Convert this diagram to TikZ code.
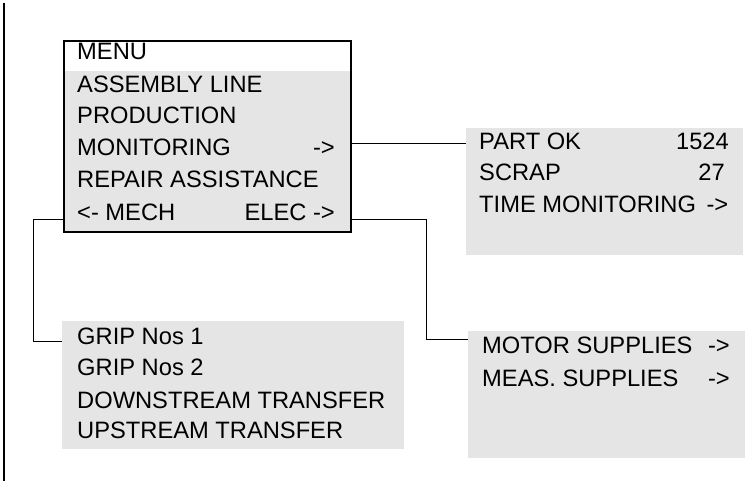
\documentclass[tikz,border=0pt]{standalone}
\usepackage{fontspec}
\setmainfont{Liberation Sans}
\begin{document}
\begin{tikzpicture}[x=1pt,y=-1pt,
  graybox/.style={fill=boxgray, draw=none, inner sep=0pt, anchor=north west},
  txt/.style={anchor=base west, inner sep=0pt, font=\fontsize{23.7}{28}\selectfont},
  rtxt/.style={anchor=base east, inner sep=0pt, font=\fontsize{23.7}{28}\selectfont},
  conn/.style={draw=black, line width=1pt}]
\definecolor{boxgray}{HTML}{E5E5E5}
\useasboundingbox (0,0) rectangle (745,481);
% left vertical rule
\draw[line width=2pt] (4,3) -- (4,481);
% menu box
\node[graybox, minimum width=287pt, minimum height=160pt] (menubody) at (63,71) {};
\node[draw=black, line width=2pt, inner sep=0pt, anchor=north west,
      minimum width=287pt, minimum height=190.7pt] (menu) at (63,40) {};
\node[txt] (t0) at (77,60) {MENU};
\node[txt] (t1) at (77,92.7) {ASSEMBLY LINE};
\node[txt] (t2) at (77,124) {PRODUCTION};
\node[txt] (t3) at (77,156) {MONITORING};
\node[rtxt] (t3a) at (335,156) {->};
\node[txt] (t4) at (77,188) {REPAIR ASSISTANCE};
\node[txt] (t5) at (77,220.7) {<- MECH};
\node[rtxt] (t5a) at (335,220.7) {ELEC ->};
% top right box
\node[graybox, minimum width=277pt, minimum height=127.3pt] (pbox) at (466,127.7) {};
\node[txt] (p1) at (479,150) {PART OK};
\node[rtxt] (p1n) at (729,150) {1524};
\node[txt] (p2) at (479,181) {SCRAP};
\node[rtxt] (p2n) at (725,181) {27};
\node[txt] (p3) at (479,212.7) {TIME MONITORING};
\node[rtxt] (p3a) at (728.5,212.7) {->};
% bottom left box
\node[graybox, minimum width=342pt, minimum height=128.3pt] (mbox) at (62,320.7) {};
\node[txt] (m1) at (77,344.3) {GRIP Nos 1};
\node[txt] (m2) at (77,375.7) {GRIP Nos 2};
\node[txt] (m3) at (77,408.3) {DOWNSTREAM TRANSFER};
\node[txt] (m4) at (77,438.3) {UPSTREAM TRANSFER};
% bottom right box
\node[graybox, minimum width=277pt, minimum height=127.3pt] (ebox) at (468,330.7) {};
\node[txt] (e1) at (482,354) {MOTOR SUPPLIES};
\node[rtxt] (e1a) at (730,354) {->};
\node[txt] (e2) at (482,386.7) {MEAS. SUPPLIES};
\node[rtxt] (e2a) at (730,386.7) {->};
% connectors
\coordinate (cm) at (33,341.7);
\coordinate (ce) at (426,340);
\draw[conn] (menu.east |- 0,144) -- (pbox.west |- 0,144);
\draw[conn] (menu.east |- 0,220) -| (ce) -- (ebox.west |- ce);
\draw[conn] (menu.west |- 0,220) -| (cm) -- (mbox.west |- cm);
\end{tikzpicture}
\end{document}
